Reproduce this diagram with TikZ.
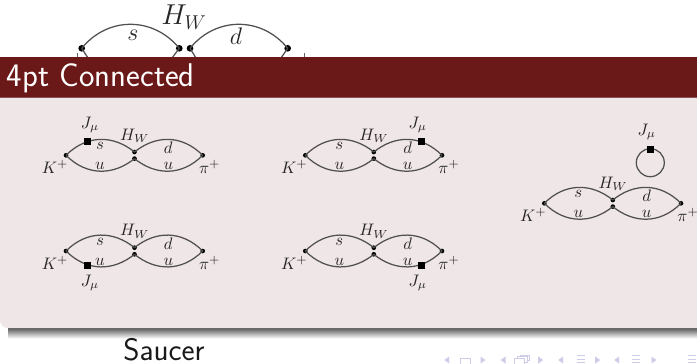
\documentclass[tikz,border=0pt]{standalone}
\usetikzlibrary{calc}
\definecolor{hdr}{HTML}{6B1818}
\definecolor{hdrb}{HTML}{8A5252}
\definecolor{bodyc}{HTML}{EFE6E7}
\definecolor{linec}{HTML}{505050}
\definecolor{navc}{HTML}{CDCDEA}
\tikzset{
  vtx/.style={circle,fill=black,inner sep=0pt,minimum size=2.8pt},
  bigvtx/.style={circle,fill=black,inner sep=0pt,minimum size=4pt},
  sq/.style={rectangle,fill=black,inner sep=0pt,minimum size=4.2pt},
  quark/.style={draw=linec,line width=0.75pt},
  lab/.style={inner sep=0pt,text=black!85},
  nav/.style={fill=navc,draw=none},
  navl/.style={draw=navc,line width=0.5pt,fill=none}
}
% #1 prefix, #2 x of K, #3 y of K
\newcommand{\saucer}[3]{%
  \node[vtx] (#1k) at (#2,#3) {};
  \node[vtx] (#1a) at ($(#2,#3)+(68.5,-3.3)$) {};
  \node[vtx] (#1b) at ($(#2,#3)+(68.5,3.3)$) {};
  \node[vtx] (#1p) at ($(#2,#3)+(136.7,0)$) {};
  \draw[quark] (#1k.center) .. controls ($(#1k)+(21,-21)$) and ($(#1a)+(-21,-17)$) .. (#1a.center);
  \draw[quark] (#1k.center) .. controls ($(#1k)+(21,21)$) and ($(#1b)+(-21,17)$) .. (#1b.center);
  \draw[quark] (#1a.center) .. controls ($(#1a)+(21,-17)$) and ($(#1p)+(-21,-21)$) .. (#1p.center);
  \draw[quark] (#1b.center) .. controls ($(#1b)+(21,17)$) and ($(#1p)+(-21,21)$) .. (#1p.center);
  \node[lab] (#1K) at ($(#1k)+(-11,12)$) {$K^+$};
  \node[lab] (#1P) at ($(#1p)+(7,12)$) {$\pi^+$};
  \node[lab] (#1H) at ($(#1k)+(68.7,-19.5)$) {$H_W$};
  \node[lab] (#1s) at ($(#1k)+(34,-9.5)$) {$s$};
  \node[lab] (#1u) at ($(#1k)+(34,10.5)$) {$u$};
  \node[lab] (#1d) at ($(#1k)+(102.3,-7.5)$) {$d$};
  \node[lab] (#1v) at ($(#1k)+(102.3,10.5)$) {$u$};
}
\begin{document}
\begin{tikzpicture}[x=0.6pt,y=-0.6pt]
\useasboundingbox (0,0) rectangle (697,363);
\fill[white] (0,0) rectangle (697,363);
% slide behind: large diagram
\node[bigvtx] (ta) at (81.7,48.3) {};
\node[bigvtx] (tb) at (179.3,48.3) {};
\node[bigvtx] (tc) at (190,48.3) {};
\node[bigvtx] (td) at (287.7,48.3) {};
\coordinate (tal) at (88,58);
\coordinate (tbl) at (172,58);
\coordinate (tcl) at (196,58);
\coordinate (tdl) at (281,58);
\draw[quark] (ta.center) .. controls ($(ta)+(26,-32)$) and ($(tb)+(-26,-32)$) .. (tb.center);
\draw[quark] (tc.center) .. controls ($(tc)+(26,-32)$) and ($(td)+(-26,-32)$) .. (td.center);
\draw[quark] (ta.center) -- (tal);
\draw[quark] (tb.center) -- (tbl);
\draw[quark] (tc.center) -- (tcl);
\draw[quark] (td.center) -- (tdl);
\draw[black!60,line width=0.3pt] (77,53) -- (77,58);
\draw[black!60,line width=0.3pt] (304.5,53) -- (304.5,58);
\node[lab,font=\Large] (ts) at (133,35) {$s$};
\node[lab,font=\Large] (td2) at (236,36) {$d$};
\node[lab,font=\LARGE] (tH) at (184,17) {$H_W$};
% shadow
\shade[top color=black!65,bottom color=white] (8,328) rectangle (697,338.5);
% body
\fill[bodyc] (0,96) -- (697,96) -- (697,328) -- (8,328) arc[start angle=90,end angle=180,radius=8] -- cycle;
% header
\fill[hdr] (0,56.5) rectangle (697,96.5);
\fill[hdrb] (0,96.5) rectangle (697,98);
\node[anchor=base west,inner sep=0pt,text=white,font=\sffamily\LARGE,scale=1.14] (title) at (6.5,86) {4pt Connected};
% saucers
\saucer{p}{66}{155.3}
\node[sq] (pj) at (87.3,141.7) {};
\node[lab] (pJ) at (90,125) {$J_\mu$};
\saucer{q}{305.3}{155.3}
\node[sq] (qj) at (421.3,141.7) {};
\node[lab] (qJ) at (417.7,125) {$J_\mu$};
\saucer{r}{66}{251}
\node[sq] (rj) at (87.3,265) {};
\node[lab] (rJ) at (90,283) {$J_\mu$};
\saucer{t}{305.3}{251}
\node[sq] (tj) at (421.3,265) {};
\node[lab] (tJ) at (417.7,283) {$J_\mu$};
\saucer{w}{544.3}{203.3}
\node[draw=linec,line width=0.75pt,circle,minimum size=16.8pt,inner sep=0pt] (wl) at (650.3,162.7) {};
\node[sq] (wj) at (650.3,149) {};
\node[lab] (wJ) at (646.7,132) {$J_\mu$};
% caption
\node[anchor=base,inner sep=0pt,font=\sffamily\LARGE,scale=1.08,text=black!90] (cap) at (164,360) {Saucer};
% navigation symbols
\foreach \x in {446.7,503,560.7,616.7} \fill[nav] (\x-2.5,360) -- (\x+2.5,356.5) -- (\x+2.5,363.5) -- cycle;
\foreach \x in {483,540.7,597.7,654} \fill[nav] (\x+2.5,360) -- (\x-2.5,356.5) -- (\x-2.5,363.5) -- cycle;
\draw[navl] (460,358) rectangle (470,364);
\draw[navl] (514,358) rectangle (524,364);
\draw[navl] (517,358) -- (517,356) -- (527,356) -- (527,362) -- (524,362);
\draw[navl] (520,356) -- (520,355) -- (529,355) -- (529,360) -- (527,360);
\foreach \x in {580.7,636,692} {
  \draw[navl] (\x-4,355.5) -- (\x+4,355.5);
  \draw[navl] (\x-4,359) -- (\x+4,359);
  \draw[navl] (\x-4,362) -- (\x+4,362);
}
\end{tikzpicture}
\end{document}
